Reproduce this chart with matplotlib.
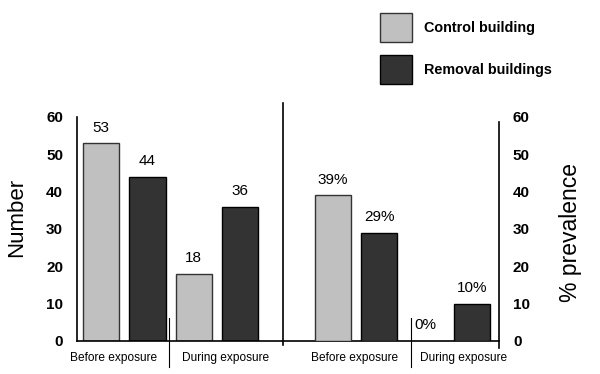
import matplotlib.pyplot as plt
from matplotlib.patches import Patch

plt.rcParams['font.family'] = ['Liberation Sans', 'DejaVu Sans']

periods = ["Before exposure", "During exposure"]
series = ["Control building", "Removal buildings"]
number_control = [53, 18]
number_removal = [44, 36]
prev_control = [39, 0]
prev_removal = [29, 10]

LIGHT = "#c0c0c0"
DARK = "#333333"

fig = plt.figure(figsize=(6.0, 3.74), dpi=100)
ax = fig.add_axes([77 / 600, 1 - 341 / 374, 422 / 600, 224 / 374])
ax2 = ax.twinx()

w = 0.78
# left panel: counts, right panel: prevalence, bar slots 0..3 and 5..8
for i in range(2):
    xc, xr = 2 * i, 2 * i + 1
    ax.bar(xc, number_control[i], w, color=LIGHT, edgecolor=DARK, lw=1)
    ax.bar(xr, number_removal[i], w, color=DARK, edgecolor="black", lw=1)
    ax.text(xc, number_control[i] + 2.3, str(number_control[i]), ha="center",
            va="bottom", fontsize=11)
    ax.text(xr, number_removal[i] + 2.3, str(number_removal[i]), ha="center",
            va="bottom", fontsize=11)

    pc, pr = 5 + 2 * i, 6 + 2 * i
    if prev_control[i] > 0:
        ax2.bar(pc, prev_control[i], w, color=LIGHT, edgecolor=DARK, lw=1)
    ax2.bar(pr, prev_removal[i], w, color=DARK, edgecolor="black", lw=1)
    ax2.text(pc, prev_control[i] + 2.3, f"{prev_control[i]}%", ha="center",
             va="bottom", fontsize=11)
    ax2.text(pr, prev_removal[i] + 2.3, f"{prev_removal[i]}%", ha="center",
             va="bottom", fontsize=11)

ax.set_xlim(-0.52, 8.58)
ax.set_ylim(0, 60)
ax2.set_ylim(0, 60)
ticks = [0, 10, 20, 30, 40, 50, 60]
ax.set_yticks(ticks)
ax2.set_yticks(ticks)
ax.set_xticks([])
for a in (ax, ax2):
    a.tick_params(axis="y", length=0, pad=10, labelsize=11)
    for lab in a.get_yticklabels():
        lab.set_fontweight("bold")
    a.spines["top"].set_visible(False)
ax.spines["right"].set_visible(False)
ax2.spines["left"].set_visible(False)
ax2.spines["bottom"].set_visible(False)
ax2.spines["right"].set_bounds(-1.8, 58.7)
for s in ("left", "bottom", "right"):
    ax.spines[s].set_linewidth(1.2)
    ax2.spines[s].set_linewidth(1.2)

# separators
ax.plot([3.92, 3.92], [-1.1, 63.8], color="black", lw=1.2, clip_on=False)
for xd in (1.47, 6.68):
    ax.plot([xd, xd], [-7.0, 6.2], color="black", lw=0.8, clip_on=False)

# group labels
group_x = [0.26, 2.69, 5.47, 7.82]
for k, xg in enumerate(group_x):
    ax.text(xg, -4.5, periods[k % 2], ha="center", va="center", fontsize=8.6,
            clip_on=False)

fig.text(17 / 600, 1 - 217 / 374, "Number", rotation=90, ha="center",
         va="center", fontsize=16)
fig.text(570 / 600, 1 - 232 / 374, "% prevalence", rotation=90, ha="center",
         va="center", fontsize=16.5)

handles = [Patch(facecolor=LIGHT, edgecolor=DARK, lw=1),
           Patch(facecolor=DARK, edgecolor="black", lw=1)]
leg = fig.legend(handles, series, loc="upper left",
                 bbox_to_anchor=(380 / 600, 1 - 13 / 374), frameon=False,
                 borderpad=0, borderaxespad=0, handlelength=2.22,
                 handleheight=2.75, labelspacing=0.85, handletextpad=0.85,
                 prop={"size": 10.4, "weight": "bold"})

fig.savefig("out.png", dpi=100)
